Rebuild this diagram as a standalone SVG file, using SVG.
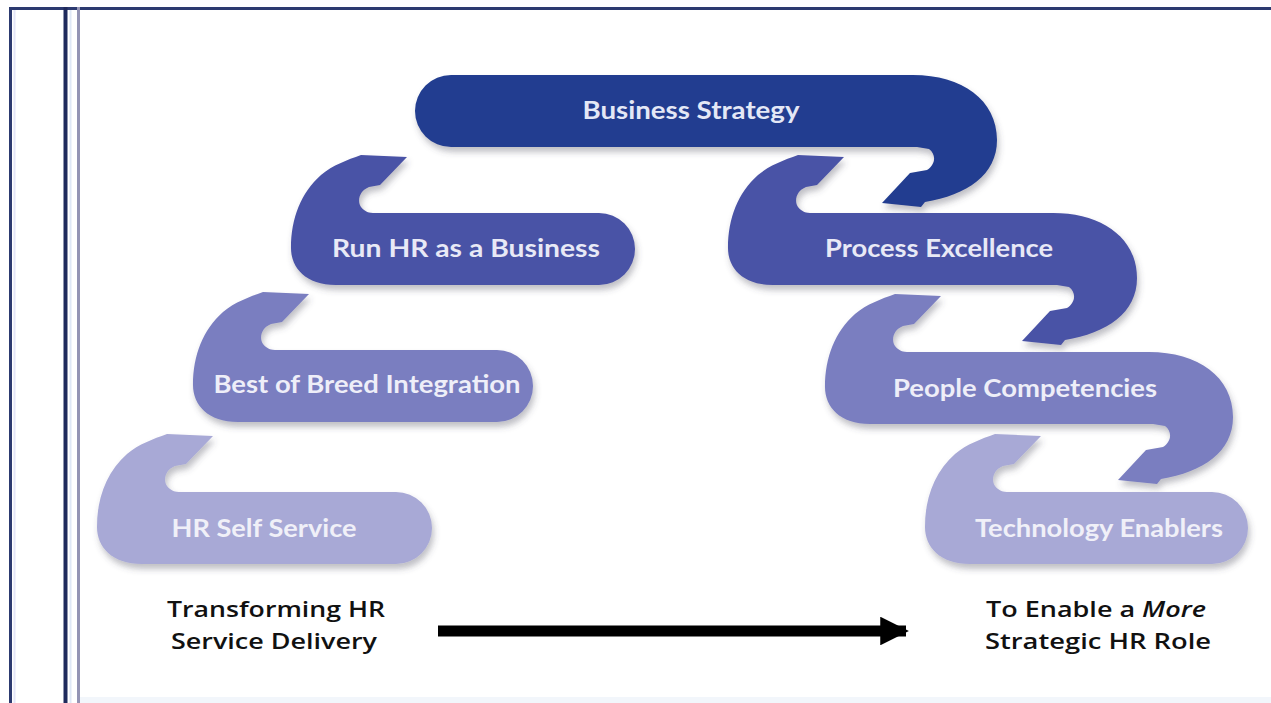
<svg xmlns="http://www.w3.org/2000/svg" width="1271" height="703" viewBox="0 0 1271 703">
  <defs>
    <filter id="shadow" x="-10%" y="-20%" width="120%" height="150%">
      <feDropShadow dx="2" dy="5" stdDeviation="3" flood-color="#4a4a5a" flood-opacity="0.35"/>
    </filter>
    <marker id="arrowHead" viewBox="0 0 10 10" refX="9" refY="5" markerWidth="2.7" markerHeight="2.6" markerUnits="strokeWidth" orient="auto">
      <path d="M0,0 L10,5 L0,10 Z" fill="#000"/>
    </marker>
  </defs>
  <style>
    .frame { stroke-linecap: butt; fill: none; }
    .step { filter: url(#shadow); }
    .lvl1 { fill: #223e90; }
    .lvl2 { fill: #4a52a6; }
    .lvl3 { fill: #7a7ec0; }
    .lvl4 { fill: #a8a9d6; }
    .label { font-family: Lato, "Open Sans", "DejaVu Sans", sans-serif; font-weight: 700; font-size: 25px; text-anchor: middle; }
    .t1 { fill: #e4e8f6; }
    .t2 { fill: #e8e9f6; }
    .t3 { fill: #eeeef8; }
    .t4 { fill: #f0f0f8; }
    .caption { font-family: "Open Sans", Lato, "DejaVu Sans", sans-serif; font-weight: 600; font-size: 21px; fill: #111; text-anchor: middle; }
  </style>

  <rect width="1271" height="703" fill="#ffffff"/>

  <!-- page frame -->
  <g id="frame" class="frame">
    <line x1="9" y1="8.5" x2="1271" y2="8.5" stroke="#2c3a70" stroke-width="3"/>
    <line x1="10.5" y1="7" x2="10.5" y2="703" stroke="#2c3a70" stroke-width="3"/>
    <line x1="14.5" y1="10" x2="14.5" y2="703" stroke="#e4e6f8" stroke-width="2"/>
    <line x1="65.5" y1="7" x2="65.5" y2="703" stroke="#1f2a5c" stroke-width="4"/>
    <line x1="70.5" y1="10" x2="70.5" y2="703" stroke="#dfe8f6" stroke-width="2"/>
    <line x1="78.5" y1="7" x2="78.5" y2="703" stroke="#9494b4" stroke-width="3"/>
    <rect x="80" y="697" width="1191" height="6" fill="#f2f6fb"/>
  </g>

  <!-- right column, top: Business Strategy -->
  <g id="business-strategy">
    <path class="step lvl1" d="M 451,75 L 913,75 C 962,75 997,100 997,140 C 997,175 967,195 925,202 L 921,207 L 882,203 L 910,173 L 927,170 C 935,165 937,155 929,149 L 917,147 L 451,147 A 36 36 0 0 1 451,75 Z"/>
    <text class="label t1" x="691" y="119" textLength="217" lengthAdjust="spacingAndGlyphs">Business Strategy</text>
  </g>

  <g id="run-hr">
    <path class="step lvl2" d="M 375,213 L 599,213 A 36 36 0 0 1 599,285 L 336,285 C 306,285 291,268 291,248 C 291,218 301,193 321,175 C 333,165 347,160 361,155 L 407,157 L 380,185 L 369,187 C 359,191 357,201 361,207 C 365,212 369,213 375,213 Z"/>
    <text class="label t2" x="466" y="257" textLength="268" lengthAdjust="spacingAndGlyphs">Run HR as a Business</text>
  </g>

  <g id="process-excellence">
    <path class="step lvl2" d="M 812,213 L 1053,213 C 1102,213 1137,238 1137,278 C 1137,313 1107,333 1065,340 L 1061,345 L 1022,341 L 1050,311 L 1067,308 C 1075,303 1077,293 1069,287 L 1057,285 L 773,285 C 743,285 728,268 728,248 C 728,218 738,193 758,175 C 770,165 784,160 798,155 L 844,157 L 817,185 L 806,187 C 796,191 794,201 798,207 C 802,212 806,213 812,213 Z"/>
    <text class="label t2" x="939" y="257" textLength="228" lengthAdjust="spacingAndGlyphs">Process Excellence</text>
  </g>

  <g id="best-of-breed">
    <path class="step lvl3" d="M 277,350 L 497,350 A 36 36 0 0 1 497,422 L 238,422 C 208,422 193,405 193,385 C 193,355 203,330 223,312 C 235,302 249,297 263,292 L 309,294 L 282,322 L 271,324 C 261,328 259,338 263,344 C 267,349 271,350 277,350 Z"/>
    <text class="label t3" x="367" y="393" textLength="307" lengthAdjust="spacingAndGlyphs">Best of Breed Integration</text>
  </g>

  <g id="people-competencies">
    <path class="step lvl3" d="M 909,352 L 1149,352 C 1198,352 1233,377 1233,417 C 1233,452 1203,472 1161,479 L 1157,484 L 1118,480 L 1146,450 L 1163,447 C 1171,442 1173,432 1165,426 L 1153,424 L 870,424 C 840,424 825,407 825,387 C 825,357 835,332 855,314 C 867,304 881,299 895,294 L 941,296 L 914,324 L 903,326 C 893,330 891,340 895,346 C 899,351 903,352 909,352 Z"/>
    <text class="label t3" x="1025" y="397" textLength="264" lengthAdjust="spacingAndGlyphs">People Competencies</text>
  </g>

  <g id="hr-self-service">
    <path class="step lvl4" d="M 181,492 L 396,492 A 36 36 0 0 1 396,564 L 142,564 C 112,564 97,547 97,527 C 97,497 107,472 127,454 C 139,444 153,439 167,434 L 213,436 L 186,464 L 175,466 C 165,470 163,480 167,486 C 171,491 175,492 181,492 Z"/>
    <text class="label t4" x="264" y="537" textLength="185" lengthAdjust="spacingAndGlyphs">HR Self Service</text>
  </g>

  <g id="technology-enablers">
    <path class="step lvl4" d="M 1009,492 L 1212,492 A 36 36 0 0 1 1212,564 L 970,564 C 940,564 925,547 925,527 C 925,497 935,472 955,454 C 967,444 981,439 995,434 L 1041,436 L 1014,464 L 1003,466 C 993,470 991,480 995,486 C 999,491 1003,492 1009,492 Z"/>
    <text class="label t4" x="1099" y="537" textLength="248" lengthAdjust="spacingAndGlyphs">Technology Enablers</text>
  </g>

  <g id="start-caption">
    <text class="caption" x="276" y="617" textLength="218" lengthAdjust="spacingAndGlyphs">Transforming HR</text>
    <text class="caption" x="274" y="649" textLength="206" lengthAdjust="spacingAndGlyphs">Service Delivery</text>
  </g>

  <g id="end-caption">
    <text class="caption" x="1096" y="617" textLength="220" lengthAdjust="spacingAndGlyphs">To Enable a <tspan font-style="italic">More</tspan></text>
    <text class="caption" x="1098" y="649" textLength="226" lengthAdjust="spacingAndGlyphs">Strategic HR Role</text>
  </g>

  <g id="connectors">
    <line x1="438" y1="631" x2="906" y2="631" stroke="#000" stroke-width="11" marker-end="url(#arrowHead)"/>
  </g>
</svg>
